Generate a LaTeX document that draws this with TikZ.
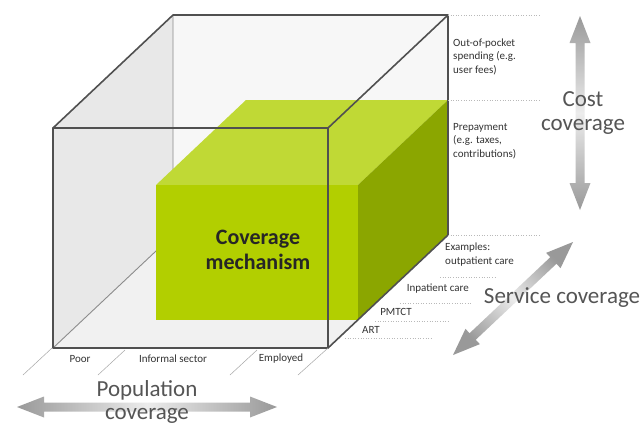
\documentclass[tikz,border=0pt]{standalone}
\usepackage{fontspec}
\setmainfont{Carlito}
\usetikzlibrary{calc}
\definecolor{edge}{HTML}{505050}
\definecolor{hidden}{HTML}{8C8C8C}
\definecolor{leftface}{HTML}{E8E8E8}
\definecolor{backface}{HTML}{F7F7F7}
\definecolor{floorface}{HTML}{F1F1F1}
\definecolor{greenfront}{HTML}{B2CF00}
\definecolor{greentop}{HTML}{C0D935}
\definecolor{greenside}{HTML}{8BA600}
\definecolor{arrowend}{HTML}{999999}
\definecolor{arrowmid}{HTML}{ECECEC}
\definecolor{labeltext}{HTML}{555555}
\definecolor{smalltext}{HTML}{333333}

% double-headed block arrow between two named coordinates
\newcommand\covarrow[3]{%
  \coordinate (ha) at ($(#1)!27pt!(#2)$);
  \coordinate (hb) at ($(#2)!27pt!(#1)$);
  \path[#3] (#1) -- ($(ha)!10.5pt!90:(#2)$) -- ($(ha)!4.5pt!90:(#2)$)
    -- ($(hb)!4.5pt!-90:(#1)$) -- ($(hb)!10.5pt!-90:(#1)$) -- (#2)
    -- ($(hb)!10.5pt!90:(#1)$) -- ($(hb)!4.5pt!90:(#1)$)
    -- ($(ha)!4.5pt!-90:(#2)$) -- ($(ha)!10.5pt!-90:(#2)$) -- cycle;
}

\begin{document}
\begin{tikzpicture}[x=1pt,y=-1pt,
  edge line/.style={draw=edge, line width=1.6pt, line join=round},
  hidden line/.style={draw=hidden, line width=0.9pt},
  guide/.style={draw=gray!55, line width=0.6pt, dotted},
  tick/.style={draw=gray!70, line width=0.5pt},
  small/.style={font=\fontsize{11}{13.5}\selectfont, text=smalltext, inner sep=0pt, align=left},
  big/.style={font=\fontsize{23}{24}\selectfont, text=labeltext, inner sep=0pt, align=center},
]
\useasboundingbox (0,0) rectangle (644,426);
\fill[white] (0,0) rectangle (644,426);

% cube corners
\coordinate (FTL) at (53,128);
\coordinate (FTR) at (328,128);
\coordinate (FBL) at (53,348);
\coordinate (FBR) at (328,348);
\coordinate (BTL) at (173,15);
\coordinate (BTR) at (448,15);
\coordinate (BBL) at (173,235);
\coordinate (BBR) at (448,235);

% inner faces of the cube
\fill[backface] (BTL) -- (BTR) -- (BBR) -- (BBL) -- cycle;
\fill[leftface] (FTL) -- (BTL) -- (BBL) -- (FBL) -- cycle;
\fill[floorface] (FBL) -- (FBR) -- (BBR) -- (BBL) -- cycle;
\draw[hidden line] (BTL) -- (BBL) -- (FBL);

% coverage mechanism block
\coordinate (GTL) at (156,185);
\coordinate (GTR) at (358,185);
\coordinate (GBL) at (156,320);
\coordinate (GBR) at (358,320);
\coordinate (GKTL) at (246,100);
\coordinate (GKTR) at (448,100);
\coordinate (GKBR) at (448,235);
\fill[greentop] (GTL) -- (GKTL) -- (GKTR) -- (GTR) -- cycle;
\fill[greenside] (GTR) -- (GKTR) -- (GKBR) -- (GBR) -- cycle;
\fill[greenfront] (GTL) rectangle (GBR);
\node[font=\bfseries\fontsize{22}{25}\selectfont, text=black!85, align=center, inner sep=0pt]
  (mech) at (258,250) {Coverage\\mechanism};

% visible cube edges
\draw[edge line] (FTL) rectangle (FBR);
\draw[edge line] (FTL) -- (BTL) -- (BTR) -- (BBR) -- (FBR);
\draw[edge line] (FTR) -- (BTR);

% guide lines on the right
\coordinate (g1a) at (448,15);  \coordinate (g1b) at (540,15);
\coordinate (g2a) at (448,100); \coordinate (g2b) at (540,100);
\coordinate (g3a) at (448,235); \coordinate (g3b) at (540,235);
\coordinate (g4a) at (440,277); \coordinate (g4b) at (497,277);
\coordinate (g5a) at (400,303); \coordinate (g5b) at (472,303);
\coordinate (g6a) at (375,321); \coordinate (g6b) at (450,321);
\coordinate (g7a) at (345,338); \coordinate (g7b) at (433,338);
\foreach \g in {1,...,7} \draw[guide] (g\g a) -- (g\g b);

% ticks below the front edge
\coordinate (t1a) at (52,348);  \coordinate (t1b) at (23,375);
\coordinate (t2a) at (125,350); \coordinate (t2b) at (98,375);
\coordinate (t3a) at (257,350); \coordinate (t3b) at (230,375);
\coordinate (t4a) at (328,348); \coordinate (t4b) at (298,375);
\foreach \t in {1,...,4} \draw[tick] (t\t a) -- (t\t b);

% small labels
\node[small, anchor=north west] (oop) at (453,38.5) {Out-of-pocket\\spending (e.g.\\user fees)};
\node[small, anchor=north west] (pre) at (453,123) {Prepayment\\(e.g. taxes,\\contributions)};
\node[small, anchor=north west] (exa) at (445,243) {Examples:\\outpatient care};
\node[small, anchor=east] (inp) at (469,289) {Inpatient care};
\node[small] (pmt) at (396,312) {PMTCT};
\node[small] (art) at (371,330) {ART};
\node[small] (poor) at (80,359) {Poor};
\node[small] (inf) at (173,359) {Informal sector};
\node[small] (emp) at (281,359) {Employed};

% coverage arrows
\coordinate (ca) at (580,16);  \coordinate (cb) at (580,210);
\coordinate (sa) at (453,355); \coordinate (sb) at (573,242);
\coordinate (pa) at (17,407);  \coordinate (pb) at (277,407);
\covarrow{ca}{cb}{top color=arrowend, bottom color=arrowend, middle color=arrowmid}
\covarrow{sa}{sb}{top color=arrowend, bottom color=arrowend, middle color=arrowmid, shading angle=-45}
\covarrow{pa}{pb}{left color=arrowend, right color=arrowend, middle color=arrowmid}

% axis labels
\node[big] (cost) at (583,113) {Cost\\coverage};
\node[big] (serv) at (562,298) {Service coverage};
\node[big, font=\fontsize{23}{22.5}\selectfont] (pop) at (147,402) {Population\\coverage};
\end{tikzpicture}
\end{document}
